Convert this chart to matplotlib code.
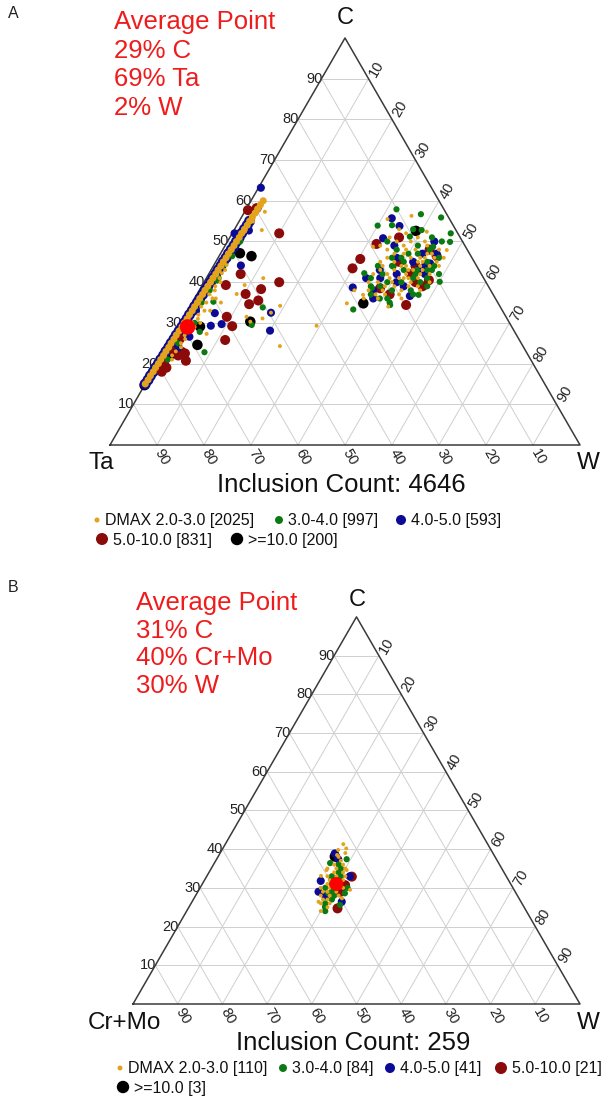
import numpy as np
import matplotlib.pyplot as plt

plt.rcParams['font.family'] = ['Liberation Sans', 'DejaVu Sans']

FIG_W, FIG_H = 603, 1106
H = np.sqrt(3) / 2

# DMAX classes: colours, marker sizes (plot / legend)
dmax_colors = ['#e3a31c', '#0b7a12', '#0b0b96', '#8b0a0a', '#000000']
dmax_sizes = [8, 20, 34, 52, 57]
legend_sizes = [13, 33, 52, 75, 80]

# ---------------- panel A : C / Ta / W  (values as (C %, W %)) ----------------
a_band_c = [15, 16, 17, 18, 19, 20, 21, 22, 23, 24, 25, 26, 27, 28, 29, 30, 31, 32,
            33, 34, 35, 36, 37, 38, 39, 40, 41, 42, 43, 44, 45, 46, 47, 48, 49, 50,
            51, 52, 53, 54, 55, 56, 57, 58, 59, 60]
a_band_w = [0.0, 0.1, 0.1, 0.2, 0.2, 0.3, 0.3, 0.4, 0.4, 0.5, 0.5, 0.6, 0.6, 0.7,
            0.8, 0.8, 0.9, 0.9, 1.0, 1.0, 1.1, 1.1, 1.2, 1.2, 1.3, 1.4, 1.4, 1.5,
            1.5, 1.6, 1.6, 1.7, 1.7, 1.8, 1.9, 1.9, 2.0, 2.0, 2.1, 2.2, 2.2, 2.3,
            2.4, 2.4, 2.5, 2.6]

a_dmax_2_3 = [(57.3, 4.3), (54.9, 3.0), (52.8, 5.9), (52.4, 2.5), (44.2, 2.7), (42.2, 2.7),
              (41.0, 12.1), (39.3, 9.0), (37.1, 8.4), (35.0, 6.1), (34.2, 19.1), (31.1, 16.9),
              (29.3, 29.3), (24.3, 24.0), (27.3, 6.9), (31.5, 13.3), (32.5, 18.0), (30.3, 14.7),
              (30, 2.5), (31, 3.2), (32, 2.8), (33, 3.6), (34, 2.4), (35, 3.0), (36, 3.8),
              (37, 2.6), (38, 3.3), (39, 2.9), (40, 3.5), (29, 3.5), (28, 2.9), (27, 2.4),
              (26, 3.0), (25, 2.6), (24, 3.1), (23, 2.5), (22, 2.2), (21, 2.7), (36, 4.5),
              (33, 4.8), (30, 4.2), (41, 2.8), (43, 3.0),
              (56.3, 36.0), (55.5, 31.3), (52.4, 41.2), (48.7, 31.6), (47.9, 47.7), (34.8, 33.0),
              (36.9, 35.4), (34.0, 42.2), (44, 40), (42, 42), (45, 43), (41, 39), (43, 45),
              (46, 41), (40, 44), (39, 41), (47, 44), (44, 46), (42, 38), (45, 38), (40, 40),
              (38, 43), (43, 42), (46, 46), (41, 45), (44, 36), (48, 41), (39, 46), (37, 40),
              (42, 47), (45, 47), (47, 39), (40, 37), (43, 39), (38, 39), (41, 42), (46, 44),
              (44, 44), (50, 36), (49, 38), (51, 40), (47, 37), (46, 36), (48, 35), (45, 35),
              (43, 36), (42, 35), (40, 35), (38, 36), (37, 38), (36, 39), (39, 39), (41, 41),
              (43, 43), (45, 44), (47, 45), (49, 43), (50, 42), (48, 46), (46, 48), (44, 48),
              (42, 45), (40, 48), (38, 47), (36, 44), (37, 43), (39, 44), (41, 43), (44, 41),
              (46, 43), (48, 39), (50, 39), (52, 37), (53, 35), (51, 34), (49, 33), (38, 33),
              (36, 36)]
a_dmax_3_4 = [(50.0, 2.7), (46.4, 2.8), (33.8, 15.6), (22.8, 8.7), (29.5, 15.4), (40.4, 2.6),
              (35.2, 4.4), (27.8, 5.2), (38, 2.2), (41, 2.6), (35, 2.0), (30, 3.0), (25, 2.0),
              (21, 1.8), (44, 2.0),
              (57.9, 32.0), (56.7, 37.8), (55.9, 42.5), (53.9, 30.0), (52.0, 46.5), (50.0, 45.6),
              (49.9, 47.4), (42.2, 33.0), (38.6, 36.4), (33.3, 35.1), (40.1, 50.1), (36.0, 39.4),
              (34.4, 42.4), (36.9, 47.2), (52.8, 39.9), (48.7, 44.4), (51.2, 38.2), (43.8, 38.4),
              (43.0, 43.8), (43, 41), (40, 42), (45, 45), (42, 44), (39, 38), (47, 42),
              (44, 38), (41, 47), (38, 45), (46, 39), (43, 47), (40, 46), (50, 34), (48, 37),
              (46, 37), (44, 35), (41, 35), (39, 36), (37, 37), (36, 41), (38, 41), (40, 39),
              (42, 37), (45, 40), (47, 40), (49, 41), (51, 43), (48, 44), (46, 47), (44, 47),
              (42, 49), (39, 48), (37, 46), (35, 42), (41, 44), (43, 46), (53, 38), (54, 33)]
a_dmax_4_5 = [(63.2, 0.5), (52.7, 3.2), (52.0, 0.5), (48.6, 2.3), (44.1, 5.8), (32.4, 6.1),
              (29.7, 8.9), (29.3, 6.8), (32.5, 18.0), (28.1, 20.0), (26.6, 3.6), (28, 2.0),
              (33, 1.8), (24, 2.6),
              (55.7, 32.1), (53.8, 34.7), (38.7, 32.3), (36.6, 45.5), (50.8, 32.7), (44.6, 45.8),
              (43.0, 35.9), (42, 40), (45, 42), (39, 43), (43, 44), (41, 37), (47, 46),
              (49, 36), (46, 38), (40, 41), (38, 37), (44, 45), (42, 46), (50, 44), (36, 38),
              (41, 34), (47, 43)]
a_dmax_5_10 = [(58.2, 2.1), (52.0, 10.0), (40.0, 16.0), (39.3, 5.0), (42.0, 6.8), (38.3, 13.0),
               (37.1, 10.3), (34.6, 12.3), (35.5, 13.8), (31.5, 9.1), (29.2, 11.4), (25.8, 11.6),
               (20.7, 5.8), (22.9, 3.8), (57.7, 0.5), (22.5, 4.7), (20, 1.5), (19, 2.5),
               (23, 2.2), (26, 1.8), (22, 3.5), (18, 2.0),
               (49.4, 32.0), (45.7, 30.4), (43.4, 29.9), (46.4, 46.3), (34.4, 45.8), (40.5, 47.6),
               (38.5, 38.2), (44, 43), (40, 45), (37, 41), (48, 44), (42, 43), (39, 47),
               (45, 39), (51, 36)]
a_dmax_10 = [(46.4, 6.9), (47.1, 4.1), (30.3, 14.7), (24.6, 6.3), (29.1, 4.6), (14.7, 0.0),
             (22.1, 1.7), (52.6, 38.8), (34.8, 36.5)]
a_avg = (29, 2)
a_labels = ['DMAX 2.0-3.0 [2025]', '3.0-4.0 [997]', '4.0-5.0 [593]',
            '5.0-10.0 [831]', '>=10.0 [200]']

# ---------------- panel B : C / Cr+Mo / W ----------------
b_dmax_2_3 = [(41.3, 26.4), (40.2, 27.6), (39.8, 26.0), (38.5, 26.4), (33.1, 25.5),
              (26.4, 28.3), (29.5, 33.8), (27.3, 33.1), (34.6, 26.0), (34.6, 30.5),
              (30, 29), (31, 30), (32, 28), (29, 31), (28, 30), (33, 29), (30, 31), (27, 29),
              (31, 28), (29, 29), (32, 31), (34, 28), (35, 28), (36, 27), (26, 31),
              (28, 28), (30, 27), (32, 30), (33, 31), (34, 30), (36, 29), (37, 28), (38, 27),
              (35, 30), (29, 28), (27, 30), (26, 29), (25, 31), (28, 32), (31, 31), (33, 27),
              (30, 32), (35, 26), (39, 28), (24, 30)]
b_dmax_3_4 = [(36.4, 25.9), (37.4, 29.1), (28.6, 29.4), (25.1, 30.4), (28.6, 33.1),
              (32.5, 28.2), (25.6, 33.5), (31, 29), (29, 30), (33, 28), (27, 31), (30, 28),
              (34, 29), (26, 30), (28, 31), (32, 29), (35, 29), (33, 30), (36, 28), (24, 31),
              (30, 33)]
b_dmax_4_5 = [(37.4, 27.2), (31.8, 26.1), (26.4, 33.5), (38.9, 25.7), (30, 30), (28, 29),
              (33, 32), (29, 27)]
b_dmax_5_10 = [(32.9, 32.5), (24.7, 33.4), (30.7, 32.1), (29, 32)]
b_dmax_10 = [(38.1, 26.1)]
b_avg = (31, 30)
b_labels = ['DMAX 2.0-3.0 [110]', '3.0-4.0 [84]', '4.0-5.0 [41]',
            '5.0-10.0 [21]', '>=10.0 [3]']


def tern(pts):
    pts = np.asarray(pts, dtype=float).reshape(-1, 2)
    c, w = pts[:, 0] / 100, pts[:, 1] / 100
    return w + c / 2, c * H


def ternary_axes(fig, x0, y0, side):
    ax = fig.add_axes([0, 0, 1, 1])
    ax.set_xlim(-x0 / side, (FIG_W - x0) / side)
    ax.set_ylim((y0 - FIG_H) / side, y0 / side)
    ax.axis('off')
    ax.patch.set_alpha(0)
    px = 1 / side
    gc, glw = '#cfcfcf', 0.7
    for v in range(10, 100, 10):
        f = v / 100
        ax.plot([f / 2, 1 - f / 2], [f * H, f * H], color=gc, lw=glw, zorder=1)
        ax.plot([f, f + (1 - f) / 2], [0, (1 - f) * H], color=gc, lw=glw, zorder=1)
        ax.plot([1 - f, (1 - f) / 2], [0, (1 - f) * H], color=gc, lw=glw, zorder=1)
        ax.text(f / 2 + px, f * H, str(v), ha='right', va='center', fontsize=10.5,
                color='#222222', zorder=2)
        ax.text(1 - f + 1 * px, -5 * px, str(v), ha='left', va='center', rotation=-60,
                rotation_mode='anchor', fontsize=10.5, color='#222222')
        ax.text(0.5 + f / 2 + 4 * px, (1 - f) * H + 3 * px, str(v), ha='left', va='center',
                rotation=60, rotation_mode='anchor', fontsize=10.5, color='#222222')
    ax.plot([0, 1, 0.5, 0], [0, 0, H, 0], color='#3a3a3a', lw=1.1, zorder=2)
    return ax


def draw_points(ax, groups, avg, avg_size, band=None):
    for i in [4, 3, 2, 1, 0]:
        if band is not None and i in (2, 0):
            bx, by = tern(list(zip(band[0], band[1])))
            if i == 2:
                ax.scatter(bx[:-5], by[:-5], s=dmax_sizes[3] * 1.2, c=dmax_colors[i],
                           edgecolors='none', zorder=3)
            else:
                ax.scatter(bx, by, s=dmax_sizes[i] * 3.2, c=dmax_colors[i],
                           edgecolors='none', zorder=7)
        x, y = tern(groups[i])
        ax.scatter(x, y, s=dmax_sizes[i], c=dmax_colors[i], edgecolors='none',
                   zorder=3 + (4 - i))
    x, y = tern([avg])
    ax.scatter(x, y, s=avg_size, c='#ff0000', edgecolors='none', zorder=9)


fig = plt.figure(figsize=(FIG_W / 100, FIG_H / 100), dpi=100)

ax_a = ternary_axes(fig, 110, 445, 470)
draw_points(ax_a, [a_dmax_2_3, a_dmax_3_4, a_dmax_4_5, a_dmax_5_10, a_dmax_10],
            a_avg, 125, band=(a_band_c, a_band_w))

ax_b = ternary_axes(fig, 133, 1004, 447)
draw_points(ax_b, [b_dmax_2_3, b_dmax_3_4, b_dmax_4_5, b_dmax_5_10, b_dmax_10],
            b_avg, 100)

# overlay in pixel coordinates for titles, labels and legends
ov = fig.add_axes([0, 0, 1, 1])
ov.set_xlim(0, FIG_W)
ov.set_ylim(FIG_H, 0)
ov.axis('off')
ov.patch.set_alpha(0)

red = '#ee1c1c'
ov.text(8, 14, 'A', fontsize=11.5, va='center', color='#222222')
ov.text(8, 588, 'B', fontsize=11.5, va='center', color='#222222')

for i, line in enumerate(['Average Point', '29% C', '69% Ta', '2% W']):
    ov.text(114, 22 + i * 28.7, line, fontsize=18.5, color=red, va='center')
for i, line in enumerate(['Average Point', '31% C', '40% Cr+Mo', '30% W']):
    ov.text(136, 603 + i * 27.7, line, fontsize=18.5, color=red, va='center')

ov.text(345, 18, 'C', fontsize=17, ha='center', va='center', color='#111111')
ov.text(114, 463, 'Ta', fontsize=17.5, ha='right', va='center', color='#111111')
ov.text(577, 463, 'W', fontsize=17.5, ha='left', va='center', color='#111111')
ov.text(341, 485, 'Inclusion Count: 4646', fontsize=18.5, ha='center', va='center',
        color='#111111')

ov.text(357, 600, 'C', fontsize=17, ha='center', va='center', color='#111111')
ov.text(161, 1023, 'Cr+Mo', fontsize=17.5, ha='right', va='center', color='#111111')
ov.text(577, 1023, 'W', fontsize=17.5, ha='left', va='center', color='#111111')
ov.text(353, 1043, 'Inclusion Count: 259', fontsize=18.5, ha='center', va='center',
        color='#111111')

# legends (flowing layout as in the source)
leg_a = [(97, 520), (279, 520), (401, 520), (102, 539), (237, 539)]
leg_b = [(120, 1068), (283, 1068), (390, 1068), (501, 1068), (123, 1087)]
leg_gap = [8, 9, 10, 11, 11]
for pos, labels in ((leg_a, a_labels), (leg_b, b_labels)):
    for i, (lx, ly) in enumerate(pos):
        ov.scatter([lx], [ly], s=legend_sizes[i], c=dmax_colors[i], edgecolors='none',
                   clip_on=False)
        ov.text(lx + leg_gap[i], ly + 1, labels[i], fontsize=11.5, va='center',
                color='#111111')

fig.savefig('out.png', dpi=100)
